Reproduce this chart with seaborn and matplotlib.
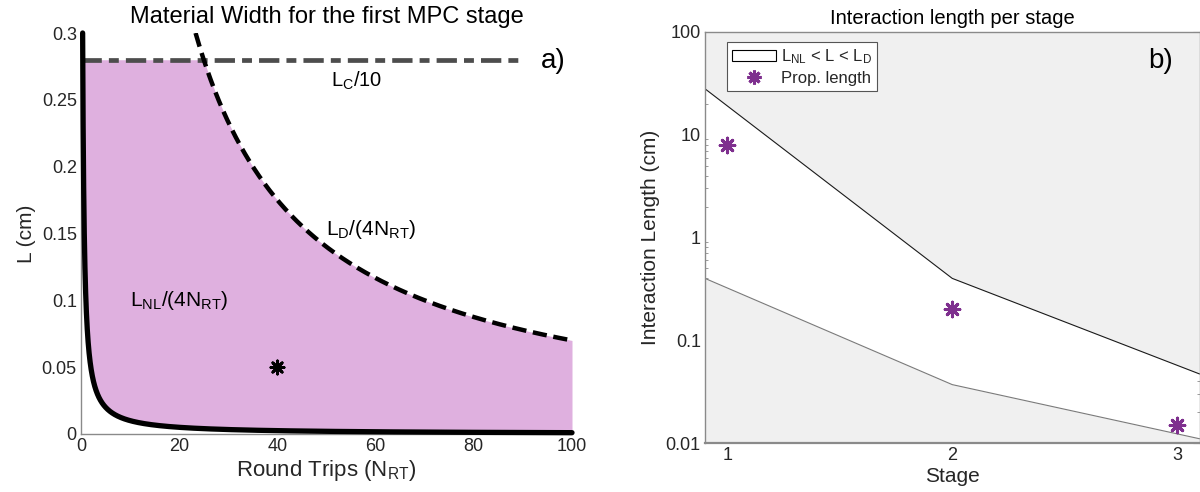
import numpy as np
import pandas as pd
import matplotlib
matplotlib.use("Agg")
import matplotlib.pyplot as plt
import seaborn as sns
from matplotlib.patches import Patch
from matplotlib.lines import Line2D
from matplotlib.ticker import FixedLocator, LogLocator, NullFormatter, FixedFormatter

# ---------------- data ----------------
# Panel a: limits for the first stage (cm)
L_NL = 0.4        # nonlinear length
L_D = 28.0        # dispersion length
L_C = 2.8         # coherence length
N_C_END = 90      # extent of the L_C/10 line
design_N = [40]
design_L = [0.05]

# Panel b: interaction length per stage
bound_x = [0.9, 2, 3.1]
upper_LD = [28.0, 0.40, 0.047]
lower_LNL = [0.40, 0.037, 0.011]
stages = [1, 2, 3]
prop_len = [8.0, 0.20, 0.015]

a_xticks = [0, 20, 40, 60, 80, 100]
a_yticks = [0, 0.05, 0.1, 0.15, 0.2, 0.25, 0.3]
a_yticklabels = ["0", "0.05", "0.1", "0.15", "0.2", "0.25", "0.3"]
b_yticks = [0.01, 0.1, 1, 10, 100]
b_yticklabels = ["0.01", "0.1", "1", "10", "100"]

# ---------------- style ----------------
sns.set_theme(style="white")
plt.rcParams["font.family"] = ["Liberation Sans", "DejaVu Sans"]
plt.rcParams["mathtext.fontset"] = "custom"
plt.rcParams["mathtext.rm"] = "Liberation Sans"
plt.rcParams["mathtext.it"] = "Liberation Sans"
plt.rcParams["mathtext.bf"] = "Liberation Sans:bold"

PINK = "#dfb0df"
GREY_FILL = "#f0f0f0"
PURPLE = "#7e2f8e"
SPINE = "#8a8a8a"
TXT = "#262626"

fig = plt.figure(figsize=(12, 4.92), dpi=100)
ax1 = fig.add_axes([81 / 1200, 1 - 434 / 492, 491 / 1200, 401 / 492])
ax2 = fig.add_axes([705 / 1200, 1 - 443 / 492, 494.5 / 1200, 411 / 492])

# ---------------- panel a ----------------
N_nl = np.geomspace(L_NL / (4 * 0.3), 100, 3000)
df_nl = pd.DataFrame({"N": N_nl, "L": L_NL / (4 * N_nl)})
N_d = np.linspace(L_D / (4 * 0.3), 100, 1000)
df_d = pd.DataFrame({"N": N_d, "L": L_D / (4 * N_d)})
df_c = pd.DataFrame({"N": [0, N_C_END], "L": [L_C / 10, L_C / 10]})

N_f = np.geomspace(L_NL / (4 * (L_C / 10)), 100, 3000)
low_f = L_NL / (4 * N_f)
up_f = np.minimum(L_C / 10, L_D / (4 * N_f))
ax1.fill_between(N_f, low_f, up_f, color=PINK, lw=0, zorder=1)

sns.lineplot(data=df_c, x="N", y="L", ax=ax1, color="#4d4d4d", lw=3.4,
             linestyle=(0, (4.3, 1.5, 2.1, 1.5)), zorder=3, sort=False)
sns.lineplot(data=df_d, x="N", y="L", ax=ax1, color="black", lw=3.2,
             linestyle=(0, (3.2, 1.5)), zorder=4, sort=False)
sns.lineplot(data=df_nl, x="N", y="L", ax=ax1, color="black", lw=3.8,
             zorder=5, sort=False)
ax1.lines[-1].set_clip_on(False)
sns.scatterplot(x=design_N, y=design_L, ax=ax1, marker=(8, 2, 0), s=90,
                color="black", edgecolor="black", linewidth=2, zorder=6)

ax1.set_xlim(0, 100)
ax1.set_ylim(0, 0.3)
ax1.xaxis.set_major_locator(FixedLocator(a_xticks))
ax1.yaxis.set_major_locator(FixedLocator(a_yticks))
ax1.yaxis.set_major_formatter(FixedFormatter(a_yticklabels))
ax1.tick_params(direction="in", length=4, width=0.8, colors=SPINE,
                labelcolor=TXT, labelsize=13, pad=3)
for s in ["top", "right"]:
    ax1.spines[s].set_visible(False)
for s in ["left", "bottom"]:
    ax1.spines[s].set_color(SPINE)
    ax1.spines[s].set_linewidth(1.0)
ax1.set_xlabel(r"Round Trips (N$_\mathrm{RT}$)", fontsize=16, color=TXT, labelpad=2)
ax1.set_ylabel("L (cm)", fontsize=15, color=TXT, labelpad=4)
ax1.set_title("Material Width for the first MPC stage", fontsize=17, color="black", pad=7)

ax1.text(51, 0.264, r"L$_\mathrm{C}$/10", fontsize=14.5, ha="left", va="center", color="black")
ax1.text(50, 0.153, r"L$_\mathrm{D}$/(4N$_\mathrm{RT}$)", fontsize=15, ha="left", va="center", color="black")
ax1.text(10, 0.1, r"L$_\mathrm{NL}$/(4N$_\mathrm{RT}$)", fontsize=15, ha="left", va="center", color="black")
ax1.text(93.6, 0.279, "a)", fontsize=20, ha="left", va="center", color="black")

# ---------------- panel b ----------------
ax2.set_yscale("log")
ax2.fill_between(bound_x, upper_LD, [1e3] * 3, color=GREY_FILL, lw=0, zorder=1)
ax2.fill_between(bound_x, [1e-4] * 3, lower_LNL, color=GREY_FILL, lw=0, zorder=1)
sns.lineplot(x=bound_x, y=upper_LD, ax=ax2, color="#1a1a1a", lw=0.8, zorder=2)
sns.lineplot(x=bound_x, y=lower_LNL, ax=ax2, color="#7a7a7a", lw=0.8, zorder=2)
sns.scatterplot(x=stages, y=prop_len, ax=ax2, marker=(8, 2, 0), s=110,
                color=PURPLE, edgecolor=PURPLE, linewidth=2.2, zorder=5)

ax2.set_xlim(0.9, 3.1)
ax2.set_ylim(0.01, 100)
ax2.xaxis.set_major_locator(FixedLocator(stages))
ax2.yaxis.set_major_locator(FixedLocator(b_yticks))
ax2.yaxis.set_major_formatter(FixedFormatter(b_yticklabels))
ax2.yaxis.set_minor_locator(LogLocator(base=10, subs=np.arange(2, 10)))
ax2.yaxis.set_minor_formatter(NullFormatter())
ax2.tick_params(which="major", direction="in", length=5, width=0.8, colors=SPINE,
                labelcolor=TXT, labelsize=13, top=True, right=True, pad=3)
ax2.tick_params(which="minor", direction="in", length=2.5, width=0.6, colors=SPINE,
                left=True, right=True)
for s in ax2.spines.values():
    s.set_color(SPINE)
    s.set_linewidth(1.0)
ax2.spines["bottom"].set_linewidth(1.6)
ax2.set_xlabel("Stage", fontsize=15, color=TXT, labelpad=2)
ax2.set_ylabel("Interaction Length (cm)", fontsize=15, color=TXT, labelpad=4)
ax2.set_title("Interaction length per stage", fontsize=14.5, color="black", pad=6)
ax2.text(0.922, 0.929, "b)", transform=ax2.transAxes, fontsize=20,
         ha="center", va="center", color="black")

handles = [
    Patch(facecolor="white", edgecolor="black", lw=0.8),
    Line2D([], [], ls="none", marker=(8, 2, 0), ms=10, mew=2.2, color=PURPLE),
]
labels = [r"L$_\mathrm{NL}$ < L < L$_\mathrm{D}$", "Prop. length"]
leg = ax2.legend(handles, labels, loc="upper left", bbox_to_anchor=(0.045, 0.975),
                 fontsize=12, frameon=True, fancybox=False, framealpha=1,
                 edgecolor="#555555", borderpad=0.3, labelspacing=0.3,
                 handlelength=2.6, handletextpad=0.3, borderaxespad=0)
leg.get_frame().set_linewidth(0.8)

fig.savefig("out.png", dpi=100)
